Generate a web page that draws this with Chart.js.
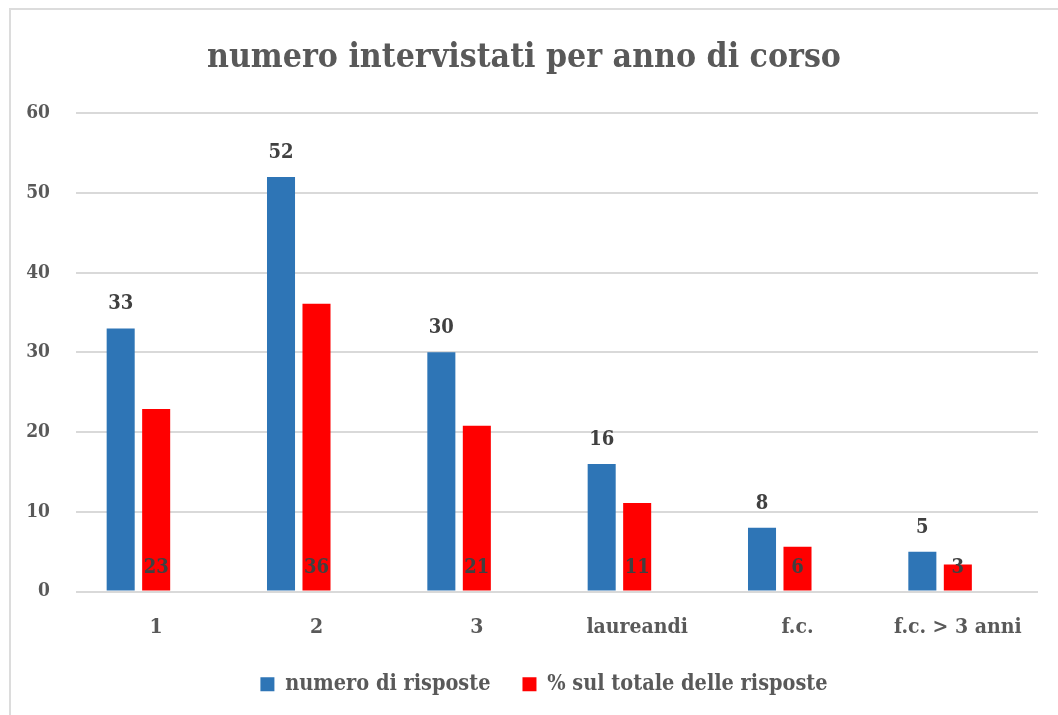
<!DOCTYPE html>
<html>
<head>
<meta charset="utf-8">
<script src="https://cdn.jsdelivr.net/npm/chart.js@4/dist/chart.umd.min.js"></script>
<style>
  html, body { margin: 0; padding: 0; background: #fff; overflow: hidden; }
  #frame { position: absolute; left: 9px; top: 8px; width: 2000px; height: 2000px; border: 2px solid #dcdcdc; }
  #wrap { position: absolute; left: 0; top: 0; width: 1058px; height: 715px; }
</style>
</head>
<body>
<div id="frame"></div>
<div id="wrap"><canvas id="c" width="1058" height="715"></canvas></div>
<script>
// ---- data ----
const categories = ['1', '2', '3', 'laureandi', 'f.c.', 'f.c. > 3 anni'];
const numeroRisposte = [33, 52, 30, 16, 8, 5];
const percentualeRisposte = [22.9, 36.1, 20.8, 11.1, 5.6, 3.4];
const spacerSeries = [null, null, null, null, null, null]; // empty third series in the original
const yTicks = [0, 10, 20, 30, 40, 50, 60];
const titleText = 'numero intervistati per anno di corso';
const seriesNames = ['numero di risposte', '% sul totale delle risposte'];

const FONT = "'DejaVu Serif Condensed', 'DejaVu Serif', serif";
const TEXT = '#595959';
const LABEL = '#404040';

const dataLabels = {
  id: 'dataLabels',
  afterLayout(chart) {
    // the original legend sits a little right of the canvas centre
    if (chart.legend) { chart.legend.left += 20; chart.legend.right += 20; }
  },
  afterDatasetsDraw(chart) {
    const ctx = chart.ctx;
    ctx.save();
    ctx.font = 'bold 20px ' + FONT;
    ctx.fillStyle = LABEL;
    ctx.textAlign = 'center';
    ctx.textBaseline = 'alphabetic';
    chart.getDatasetMeta(0).data.forEach((bar, i) => {
      ctx.fillText(String(Math.round(numeroRisposte[i])), bar.x, bar.y - 19);
    });
    chart.getDatasetMeta(1).data.forEach((bar, i) => {
      ctx.fillText(String(Math.round(percentualeRisposte[i])), bar.x, bar.base - 18);
    });
    ctx.restore();
  }
};

new Chart(document.getElementById('c'), {
  type: 'bar',
  data: {
    labels: categories,
    datasets: [
      { label: seriesNames[0], data: numeroRisposte, backgroundColor: '#2E75B6', borderWidth: 0 },
      { label: seriesNames[1], data: percentualeRisposte, backgroundColor: '#FF0000', borderWidth: 0 },
      { label: '', data: spacerSeries, backgroundColor: 'rgba(0,0,0,0)' }
    ]
  },
  options: {
    responsive: false,
    animation: false,
    devicePixelRatio: 1,
    categoryPercentage: 0.664,
    barPercentage: 0.79,
    layout: { padding: { left: 10, right: 20, top: 22, bottom: 10 } },
    plugins: {
      tooltip: { enabled: false },
      title: {
        display: true,
        text: titleText,
        color: TEXT,
        font: { family: FONT, size: 33.5, weight: 'bold' },
        padding: { top: 16, bottom: 35 }
      },
      legend: {
        position: 'bottom',
        labels: {
          filter: (item) => item.datasetIndex < 2,
          color: TEXT,
          font: { family: FONT, size: 21.5, weight: 'bold' },
          boxWidth: 14,
          boxHeight: 14,
          padding: 32
        }
      }
    },
    scales: {
      x: {
        grid: { display: false },
        border: { display: false },
        ticks: { color: TEXT, font: { family: FONT, size: 21, weight: 'bold' }, padding: 15, maxRotation: 0 },
        afterFit: (s) => { s.height = 50; }
      },
      y: {
        min: 0,
        max: 60,
        afterBuildTicks: (s) => { s.ticks = yTicks.map(v => ({ value: v })); },
        grid: { color: '#d9d9d9', lineWidth: 2, drawTicks: false },
        border: { display: false },
        ticks: { color: TEXT, font: { family: FONT, size: 19, weight: 'bold' }, padding: 26 },
        afterFit: (s) => { s.width = 66; }
      }
    }
  },
  plugins: [dataLabels]
});
</script>
</body>
</html>
